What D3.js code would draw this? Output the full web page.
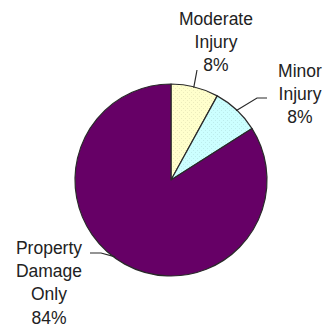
<!DOCTYPE html>
<html>
<head>
<meta charset="utf-8">
<script src="https://cdn.jsdelivr.net/npm/d3@7"></script>
<style>
  html, body { margin: 0; padding: 0; background: #fff; }
  svg { display: block; }
</style>
</head>
<body>
<div id="chart"></div>
<script>
// data
const categories = ["Moderate Injury", "Minor Injury", "Property Damage Only"];
const values = [8, 8, 84];
const labelLines = [["Moderate", "Injury", "8%"], ["Minor", "Injury", "8%"], ["Property", "Damage", "Only", "84%"]];
const colors = ["#FFFFCC", "#CCFFFF", "#660066"];
const dotColors = ["#ececbc", "#bcecec", null];

const width = 327, height = 327;
const cx = 171, cy = 180, radius = 96;

/* label layout: text centre, first baseline, and leader elbow */
const labelLayout = [
  { x: 216, y: 25, elbow: null, end: [197, 70], shift: -0.01 },
  { x: 300, y: 77, elbow: [257, 98], end: [267, 98], shift: 0 },
  { x: 49, y: 254, elbow: [101, 253], end: [90, 253], shift: 0.125 }
];
const lineHeight = 23.2;

const svg = d3.select("#chart")
  .append("svg")
  .attr("width", width)
  .attr("height", height);

/* dotted fills like the original */
const defs = svg.append("defs");
colors.forEach((c, i) => {
  if (!dotColors[i]) return;
  const p = defs.append("pattern")
    .attr("id", "pat" + i)
    .attr("width", 4).attr("height", 4)
    .attr("patternUnits", "userSpaceOnUse");
  p.append("rect").attr("width", 4).attr("height", 4).attr("fill", c);
  p.append("rect").attr("x", 0).attr("y", 0).attr("width", 1).attr("height", 1).attr("fill", dotColors[i]);
  p.append("rect").attr("x", 2).attr("y", 2).attr("width", 1).attr("height", 1).attr("fill", dotColors[i]);
});

const pie = d3.pie().sort(null).value(d => d);
const arcs = pie(values);
const arc = d3.arc().innerRadius(0).outerRadius(radius);

const g = svg.append("g").attr("transform", `translate(${cx},${cy})`);

g.selectAll("path.slice")
  .data(arcs)
  .enter()
  .append("path")
    .attr("class", "slice")
    .attr("d", arc)
    .attr("fill", (d, i) => dotColors[i] ? `url(#pat${i})` : colors[i])
    .attr("stroke", "#2a2a2a")
    .attr("stroke-width", 1.2)
    .attr("stroke-linejoin", "round");

/* leader lines */
arcs.forEach((d, i) => {
  const L = labelLayout[i];
  const a = (d.startAngle + d.endAngle) / 2 + L.shift;
  const sx = cx + Math.sin(a) * (radius - 1);
  const sy = cy - Math.cos(a) * (radius - 1);
  const pts = [[sx, sy]];
  if (L.elbow) pts.push(L.elbow);
  pts.push(L.end);
  svg.append("path")
    .attr("d", d3.line()(pts))
    .attr("fill", "none")
    .attr("stroke", "#2a2a2a")
    .attr("stroke-width", 1.2);
});

/* labels */
labelLines.forEach((lines, i) => {
  const L = labelLayout[i];
  const t = svg.append("text")
    .attr("font-family", "'Liberation Sans', Arial, sans-serif")
    .attr("font-size", "17.5px")
    .attr("fill", "#222")
    .attr("text-anchor", "middle");
  lines.forEach((s, j) => {
    t.append("tspan")
      .attr("x", L.x)
      .attr("y", L.y + j * lineHeight)
      .text(s);
  });
});
</script>
</body>
</html>
